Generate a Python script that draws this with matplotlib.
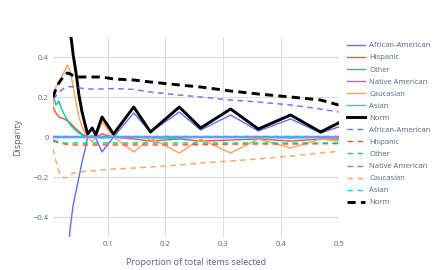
import numpy as np
import matplotlib
matplotlib.use("Agg")
import matplotlib.pyplot as plt
from matplotlib.ticker import FuncFormatter

plt.rcParams['font.family'] = ['Open Sans', 'DejaVu Sans']

# proportion of total items selected
x = [0.005, 0.01, 0.015, 0.02, 0.025, 0.03, 0.035, 0.04, 0.045, 0.05, 0.055, 0.06, 0.065,
     0.073, 0.079, 0.09, 0.11, 0.145, 0.174, 0.224, 0.261, 0.313, 0.361, 0.417, 0.469, 0.5]

groups = ['African-American', 'Hispanic', 'Other', 'Native American', 'Caucasian', 'Asian']
colors = ['#636efa', '#ef553b', '#00cc96', '#ab63fa', '#ffa15a', '#19d3f3']

# solid series
aa_solid = [-1.5, -1.4, -1.3, -1.1, -0.85, -0.6, -0.45, -0.34, -0.27, -0.2, -0.13, -0.07, 0.0,
            0.005, -0.005, -0.075, 0.0, 0.12, 0.025, 0.125, 0.035, 0.11, 0.03, 0.09, 0.02, 0.05]
hisp_solid = [0.15, 0.12, 0.1, 0.095, 0.09, 0.08, 0.07, 0.055, 0.04, 0.028, 0.015, 0.008, 0.0,
              0.005, 0.0, 0.015, 0.0, -0.01, -0.02, -0.01, -0.02, -0.015, -0.01, -0.02, -0.01, -0.01]
other_solid = [0.22, 0.16, 0.18, 0.14, 0.11, 0.085, 0.06, 0.045, 0.03, 0.02, 0.01, 0.005, 0.0,
               0.0, 0.0, -0.005, 0.0, 0.0, -0.005, -0.005, 0.0, 0.0, 0.0, -0.005, 0.0, 0.0]
native_solid = [0.0, 0.0, 0.0, 0.0, 0.0, 0.0, 0.0, 0.0, 0.0, 0.0, 0.0, 0.0, 0.0,
                0.0, 0.0, 0.0, 0.0, 0.0, 0.0, 0.0, 0.0, 0.0, 0.0, 0.0, 0.0, 0.0]
cauc_solid = [0.16, 0.25, 0.27, 0.3, 0.33, 0.36, 0.33, 0.25, 0.17, 0.1, 0.055, 0.025, 0.005,
              -0.025, 0.0, 0.075, 0.0, -0.075, -0.005, -0.08, -0.01, -0.08, -0.01, -0.055, -0.01, -0.02]
asian_solid = [0.003, 0.003, 0.003, 0.003, 0.003, 0.003, 0.003, 0.003, 0.003, 0.003, 0.003, 0.003, 0.003,
               0.003, 0.003, 0.003, 0.003, 0.003, 0.003, 0.003, 0.003, 0.003, 0.003, 0.003, 0.003, 0.003]
norm_solid = [1.2, 1.3, 1.4, 1.3, 1.1, 0.8, 0.53, 0.41, 0.32, 0.21, 0.13, 0.07, 0.015,
              0.045, 0.01, 0.1, 0.015, 0.15, 0.025, 0.15, 0.045, 0.14, 0.04, 0.11, 0.025, 0.07]

# dashed series
aa_dash = [0.19, 0.205, 0.22, 0.235, 0.245, 0.25, 0.252, 0.25, 0.248, 0.246, 0.244, 0.242, 0.24,
           0.24, 0.24, 0.24, 0.242, 0.238, 0.225, 0.21, 0.2, 0.185, 0.175, 0.16, 0.14, 0.125]
hisp_dash = [-0.02, -0.025, -0.03, -0.032, -0.035, -0.037, -0.038, -0.04, -0.04, -0.04, -0.04, -0.04, -0.04,
             -0.04, -0.04, -0.04, -0.04, -0.04, -0.04, -0.04, -0.038, -0.036, -0.035, -0.035, -0.034, -0.033]
other_dash = [-0.015, -0.02, -0.025, -0.028, -0.03, -0.03, -0.03, -0.03, -0.03, -0.03, -0.03, -0.03, -0.03,
              -0.03, -0.03, -0.03, -0.03, -0.03, -0.03, -0.03, -0.03, -0.03, -0.03, -0.03, -0.03, -0.03]
native_dash = [0.005, 0.005, 0.005, 0.005, 0.005, 0.005, 0.005, 0.005, 0.005, 0.005, 0.005, 0.005, 0.005,
               0.005, 0.005, 0.005, 0.005, 0.005, 0.005, 0.005, 0.005, 0.005, 0.005, 0.005, 0.005, 0.005]
cauc_dash = [-0.06, -0.12, -0.17, -0.2, -0.205, -0.2, -0.19, -0.18, -0.178, -0.176, -0.174, -0.172, -0.17,
             -0.17, -0.168, -0.165, -0.16, -0.155, -0.15, -0.14, -0.13, -0.12, -0.11, -0.095, -0.08, -0.072]
asian_dash = [0.0, 0.0, 0.0, 0.0, 0.0, 0.0, 0.0, 0.0, 0.0, 0.0, 0.0, 0.0, 0.0,
              0.0, 0.0, 0.0, 0.0, 0.0, 0.0, 0.0, 0.0, 0.0, 0.0, 0.0, 0.0, 0.0]
norm_dash = [0.2, 0.24, 0.27, 0.29, 0.31, 0.32, 0.315, 0.305, 0.3, 0.3, 0.3, 0.3, 0.3,
             0.3, 0.3, 0.3, 0.29, 0.285, 0.275, 0.26, 0.25, 0.23, 0.215, 0.2, 0.185, 0.16]

solid = [aa_solid, hisp_solid, other_solid, native_solid, cauc_solid, asian_solid]
dashed = [aa_dash, hisp_dash, other_dash, native_dash, cauc_dash, asian_dash]

text_col = '#506784'

fig = plt.figure(figsize=(4.42, 2.70), dpi=100)
ax = fig.add_axes([53 / 442, 1 - 237 / 270, 285.5 / 442, 200 / 270])

thin = 1.0
for name, c, ys in zip(groups, colors, solid):
    ax.plot(x, ys, color=c, lw=thin, label=name)
ax.plot(x, norm_solid, color='black', lw=2.1, label='Norm')
for name, c, ys in zip(groups, colors, dashed):
    ax.plot(x, ys, color=c, lw=thin, linestyle=(0, (4.0, 3.2)), label=name)
ax.plot(x, norm_dash, color='black', lw=2.1, linestyle=(0, (2.8, 1.8)), label='Norm')

ax.set_xlim(0.005, 0.5)
ax.set_ylim(-0.5, 0.5)
ax.set_xticks([0.1, 0.2, 0.3, 0.4, 0.5])
ax.set_yticks([-0.4, -0.2, 0, 0.2, 0.4])
ax.xaxis.set_major_formatter(FuncFormatter(lambda v, p: f'{v:g}'))
ax.yaxis.set_major_formatter(FuncFormatter(lambda v, p: f'{v:g}'.replace('-', '\u2212')))
ax.grid(True, color='#dcdcdc', lw=0.8)
ax.set_axisbelow(True)
for s in ax.spines.values():
    s.set_visible(False)
ax.tick_params(length=0, labelsize=5.5, labelcolor=text_col, pad=3)

ax.set_xlabel('Proportion of total items selected', fontsize=6.5, color=text_col, labelpad=7)
ax.set_ylabel('Disparity', fontsize=6.5, color=text_col, labelpad=8)

fig.legend(loc='upper left', bbox_to_anchor=(347 / 442, 1 - 42 / 270), frameon=False,
           fontsize=5.5, labelcolor=text_col, handlelength=2.4, handletextpad=0.5,
           labelspacing=0.62, borderaxespad=0, borderpad=0)

fig.savefig('out.png', dpi=100, facecolor='white')
